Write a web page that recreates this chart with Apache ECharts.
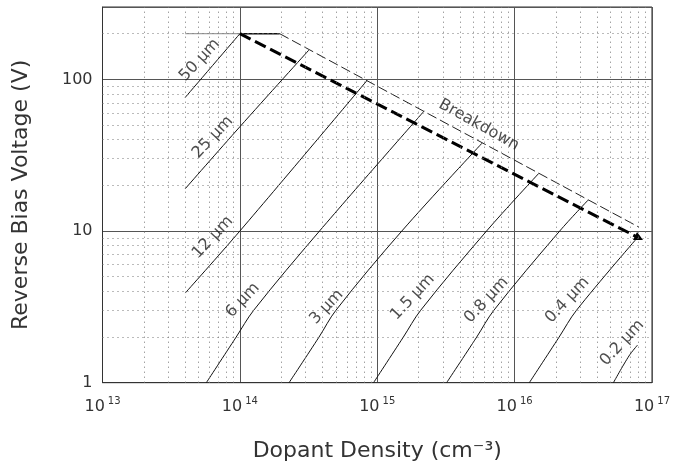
<!DOCTYPE html>
<html>
<head>
<meta charset="utf-8">
<script src="https://cdn.jsdelivr.net/npm/echarts@6/dist/echarts.min.js"></script>
<style>
  html, body { margin: 0; padding: 0; background: #fff; }
  #chart { width: 673px; height: 470px; }
</style>
</head>
<body>
<div id="chart"></div>
<script>
// axis ticks
const xTicks = [1e13, 1e14, 1e15, 1e16, 1e17];
const yTicks = [1, 10, 100];

// depletion width curves, [dopant density, reverse bias]
const w50 = [[4.0e13, 76], [1.0e14, 200]];
const w25 = [[4.0e13, 19], [1.0e14, 48.7], [3.18e14, 156]];
const w12 = [[4.0e13, 3.9], [1.0e14, 10], [8.4e14, 98]];
const w6 = [[5.7e13, 1], [9.4e13, 2], [1.26e14, 3], [3.8e14, 10], [2.2e15, 62]];
const w3 = [[2.28e14, 1], [3.77e14, 2], [5.0e14, 3], [1.51e15, 10], [5.8e15, 38]];
const w1p5 = [[9.4e14, 1], [1.55e15, 2], [2.07e15, 3], [6.25e15, 10], [1.5e16, 24]];
const w0p8 = [[3.2e15, 1], [5.3e15, 2], [7.06e15, 3], [2.13e16, 10], [3.43e16, 16]];
const w0p4 = [[1.28e16, 1], [2.11e16, 2], [2.82e16, 3], [8.05e16, 9.3]];
const w0p2 = [[5.24e16, 1], [6.8e16, 1.5], [7.85e16, 1.77]];

// breakdown lines
const breakdownThick = [[1.0e14, 200], [8.05e16, 9.0]];
const breakdownFlat = [[1.0e14, 200], [1.95e14, 200]];
const breakdownThin = [[1.95e14, 200], [8.05e16, 10.6]];
const ledge = [[4.0e13, 200], [1.0e14, 200]];

// curve labels and where they sit
const curveNames = ['50 μm', '25 μm', '12 μm', '6 μm', '3 μm', '1.5 μm', '0.8 μm', '0.4 μm', '0.2 μm'];
const curveLabelAt = [[5.1e13, 134], [6.35e13, 41.6], [6.35e13, 9.1], [1.05e14, 3.5], [4.28e14, 3.16],
  [1.81e15, 3.67], [6.24e15, 3.5], [2.42e16, 3.5], [6.07e16, 1.83]];
const breakdownLabelAt = [5.5e15, 50];

const curves = [w50, w25, w12, w6, w3, w1p5, w0p8, w0p4, w0p2];

const FONT = 'DejaVu Sans';

// minor grid (2..9 in every decade)
const minorX = [];
for (let d = 13; d < 17; d++) for (let m = 2; m <= 9; m++) minorX.push(m * Math.pow(10, d));
const minorY = [];
for (let d = 0; d < 2; d++) for (let m = 2; m <= 9; m++) minorY.push(m * Math.pow(10, d));
minorY.push(200);

function isDecade(v) {
  const l = Math.log10(v);
  return Math.abs(l - Math.round(l)) < 1e-6;
}

const chart = echarts.init(document.getElementById('chart'));

const series = [];

series.push({
  type: 'line',
  data: [[1e13, 1]],
  showSymbol: false,
  lineStyle: { width: 0 },
  silent: true,
  z: 1,
  markLine: {
    silent: true,
    symbol: ['none', 'none'],
    label: { show: false },
    lineStyle: { color: '#777', width: 1, type: [1, 4] },
    data: minorX.map(v => ({ xAxis: v })).concat(minorY.map(v => ({ yAxis: v })))
  }
});

curves.forEach((c, i) => {
  series.push({
    type: 'line',
    name: curveNames[i],
    data: c,
    showSymbol: false,
    silent: true,
    smooth: 0.35,
    lineStyle: { color: '#111', width: 1 },
    z: 3
  });
});

series.push({
  type: 'line', data: ledge, showSymbol: false, silent: true,
  lineStyle: { color: '#888', width: 1 }, z: 2
});
series.push({
  type: 'line', data: breakdownFlat, showSymbol: false, silent: true,
  lineStyle: { color: '#111', width: 1.5 }, z: 3
});
series.push({
  type: 'line', data: breakdownThin, showSymbol: false, silent: true,
  lineStyle: { color: '#222', width: 1, type: [10, 4] }, z: 3
});
series.push({
  type: 'line',
  data: [
    breakdownThick[0],
    { value: breakdownThick[1], symbol: 'triangle', symbolSize: 9, symbolRotate: -117,
      itemStyle: { color: '#000' } }
  ],
  symbol: 'none',
  showSymbol: true,
  silent: true,
  lineStyle: { color: '#000', width: 3, type: [12, 5] },
  z: 4
});

series.push({
  type: 'scatter',
  symbolSize: 0,
  silent: true,
  data: curveLabelAt.map((p, i) => ({ value: p, name: curveNames[i] })),
  label: {
    show: true,
    position: 'inside',
    formatter: p => p.name,
    rotate: 47,
    fontFamily: FONT,
    fontSize: 16,
    color: '#222'
  },
  z: 5
});
series.push({
  type: 'scatter',
  symbolSize: 0,
  silent: true,
  data: [{ value: breakdownLabelAt, name: 'Breakdown' }],
  label: {
    show: true,
    position: 'inside',
    formatter: p => p.name,
    rotate: -29,
    fontFamily: FONT,
    fontSize: 16,
    color: '#222'
  },
  z: 5
});

const option = {
  animation: false,
  backgroundColor: '#fff',
  grid: {
    left: 102.5, right: 20, top: 7, bottom: 87.3,
    show: true, borderColor: '#333', borderWidth: 1, backgroundColor: 'transparent'
  },
  xAxis: {
    type: 'log',
    logBase: 10,
    min: xTicks[0],
    max: xTicks[xTicks.length - 1],
    name: 'Dopant Density (cm⁻³)',
    nameLocation: 'middle',
    nameGap: 58,
    nameTextStyle: { fontFamily: FONT, fontSize: 22, color: '#333' },
    axisLine: { show: true, lineStyle: { color: '#333' } },
    axisTick: { show: false },
    splitLine: { show: true, lineStyle: { color: '#555', width: 1 } },
    axisLabel: {
      margin: 12,
      formatter: v => isDecade(v) ? '{b|10}{s|' + Math.round(Math.log10(v)) + '}' : '',
      rich: {
        b: { fontFamily: FONT, fontSize: 16, color: '#333', lineHeight: 20, verticalAlign: 'bottom' },
        s: { fontFamily: FONT, fontSize: 10, color: '#333', padding: [0, 0, 8, 3], verticalAlign: 'bottom' }
      }
    }
  },
  yAxis: {
    type: 'log',
    logBase: 10,
    min: yTicks[0],
    max: 300,
    name: 'Reverse Bias Voltage (V)',
    nameLocation: 'middle',
    nameGap: 70,
    nameTextStyle: { fontFamily: FONT, fontSize: 22, color: '#333' },
    axisLine: { show: true, lineStyle: { color: '#333' } },
    axisTick: { show: false },
    splitLine: { show: true, lineStyle: { color: '#555', width: 1 } },
    axisLabel: {
      margin: 10,
      fontFamily: FONT,
      fontSize: 16,
      color: '#333',
      formatter: v => (isDecade(v) && yTicks.indexOf(Math.round(v)) >= 0) ? String(Math.round(v)) : ''
    }
  },
  series: series
};

chart.setOption(option);
</script>
</body>
</html>
